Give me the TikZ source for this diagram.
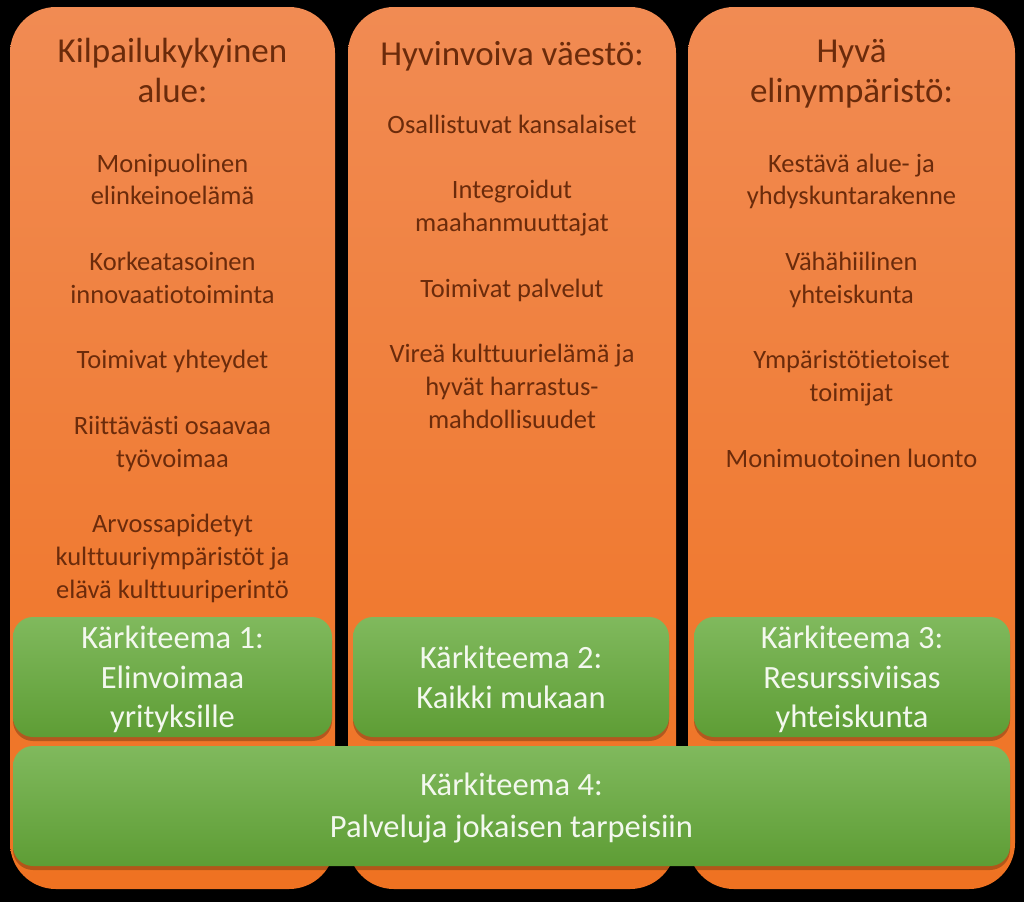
\documentclass[tikz,border=0pt]{standalone}
\usepackage{fontspec}
\setmainfont[Ligatures={NoCommon}]{Carlito}
\definecolor{otop}{HTML}{F18B53}
\definecolor{obot}{HTML}{EF7221}
\definecolor{gtop}{HTML}{80B95D}
\definecolor{gbot}{HTML}{5E9D35}
\definecolor{txtbrown}{HTML}{6B2B0B}
\definecolor{gtxt}{HTML}{F3F8EE}
\begin{document}
\begin{tikzpicture}[x=1pt,y=-1pt,
  col/.style={top color=otop,bottom color=obot,rounded corners=46pt},
  gbox/.style={top color=gtop,bottom color=gbot,rounded corners=20pt},
  gshadow/.style={fill=black,opacity=0.25,rounded corners=20pt},
  title/.style={anchor=base,text=txtbrown,font=\fontsize{35}{41}\selectfont,inner sep=0pt},
  item/.style={anchor=base,text=txtbrown,font=\fontsize{26.5}{32.8}\selectfont,inner sep=0pt},
  gtext/.style={anchor=base,text=gtxt,font=\fontsize{32.5}{40}\selectfont,inner sep=0pt}]
\fill[black] (0,0) rectangle (1024,902);
\useasboundingbox (0,0) rectangle (1024,902);
% columns
\shade[col] (10,7) rectangle (335,889);
\shade[col] (348,7) rectangle (676,889);
\shade[col] (688,7) rectangle (1015,889);
% left column text
\node[title] (t1a) at (172.5,62) {Kilpailukykyinen};
\node[title] (t1b) at (172.5,102) {alue:};
\node[item] (a1) at (172.5,172) {Monipuolinen};
\node[item] (a2) at (172.5,204.8) {elinkeinoelämä};
\node[item] (a3) at (172.5,270.4) {Korkeatasoinen};
\node[item] (a4) at (172.5,303.2) {innovaatiotoiminta};
\node[item] (a5) at (172.5,368.8) {Toimivat yhteydet};
\node[item] (a6) at (172.5,434.4) {Riittävästi osaavaa};
\node[item] (a7) at (172.5,467.2) {työvoimaa};
\node[item] (a8) at (172.5,532.8) {Arvossapidetyt};
\node[item] (a9) at (172.5,565.6) {kulttuuriympäristöt ja};
\node[item] (a10) at (172.5,598.4) {elävä kulttuuriperintö};
% middle column text
\node[title] (t2) at (512,65) {Hyvinvoiva väestö:};
\node[item] (b1) at (512,133) {Osallistuvat kansalaiset};
\node[item] (b2) at (512,198.6) {Integroidut};
\node[item] (b3) at (512,231.4) {maahanmuuttajat};
\node[item] (b4) at (512,297) {Toimivat palvelut};
\node[item] (b5) at (512,362.6) {Vireä kulttuurielämä ja};
\node[item] (b6) at (512,395.4) {hyvät harrastus-};
\node[item] (b7) at (512,428.2) {mahdollisuudet};
% right column text
\node[title] (t3a) at (851.5,62) {Hyvä};
\node[title] (t3b) at (851.5,102) {elinympäristö:};
\node[item] (c1) at (851.5,172) {Kestävä alue- ja};
\node[item] (c2) at (851.5,204.8) {yhdyskuntarakenne};
\node[item] (c3) at (851.5,270.4) {Vähähiilinen};
\node[item] (c4) at (851.5,303.2) {yhteiskunta};
\node[item] (c5) at (851.5,368.8) {Ympäristötietoiset};
\node[item] (c6) at (851.5,401.6) {toimijat};
\node[item] (c7) at (851.5,467.2) {Monimuotoinen luonto};
% green boxes
\fill[gshadow] (13,621) rectangle (332,741);
\shade[gbox] (13,617) rectangle (332,737);
\fill[gshadow] (353,621) rectangle (669,741);
\shade[gbox] (353,617) rectangle (669,737);
\fill[gshadow] (694,621) rectangle (1010,741);
\shade[gbox] (694,617) rectangle (1010,737);
\fill[gshadow] (13,750) rectangle (1010,870);
\shade[gbox] (13,746) rectangle (1010,866);
% green texts
\node[gtext] (g1a) at (172.5,648) {Kärkiteema 1:};
\node[gtext] (g1b) at (172.5,688) {Elinvoimaa};
\node[gtext] (g1c) at (172.5,727) {yrityksille};
\node[gtext] (g2a) at (511,668) {Kärkiteema 2:};
\node[gtext] (g2b) at (511,708) {Kaikki mukaan};
\node[gtext] (g3a) at (852,648) {Kärkiteema 3:};
\node[gtext] (g3b) at (852,688) {Resurssiviisas};
\node[gtext] (g3c) at (852,727) {yhteiskunta};
\node[gtext] (g4a) at (511.5,795) {Kärkiteema 4:};
\node[gtext] (g4b) at (511.5,837) {Palveluja jokaisen tarpeisiin};
\end{tikzpicture}
\end{document}
